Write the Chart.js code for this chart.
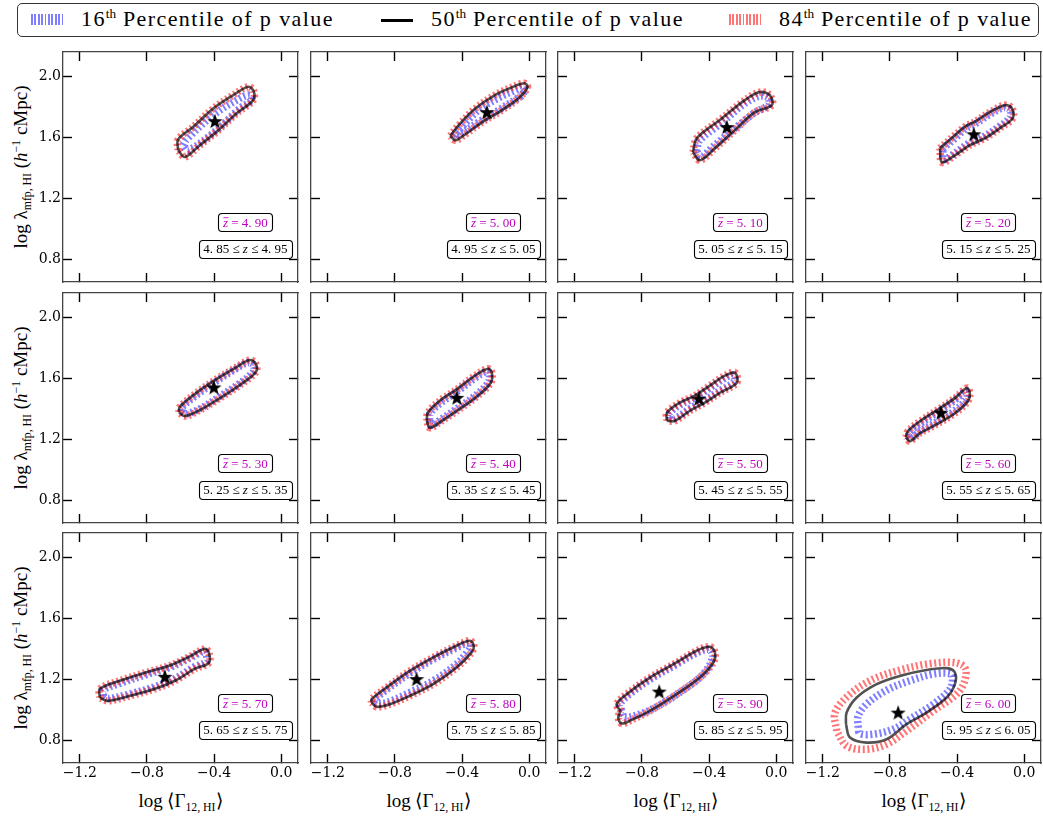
<!DOCTYPE html>
<html>
<head>
<meta charset="utf-8">
<script src="https://cdn.jsdelivr.net/npm/chart.js@4.4.1/dist/chart.umd.min.js"></script>
<style>
  body { margin: 0; background: #fff; width: 1043px; height: 816px; position: relative; overflow: hidden; }
  canvas { position: absolute; }
  #legend { position: absolute; left: 17px; top: 3px; width: 1020px; height: 32px; border: 1.3px solid #333; border-radius: 5px; }
  .smp { position: absolute; top: 10px; width: 32px; height: 11px; }
  .lt { position: absolute; top: 2px; font: 22px "Liberation Serif", serif; letter-spacing: 1.4px; white-space: nowrap; }
  .lt sup { font-size: 60%; vertical-align: 0.6em; line-height: 0; letter-spacing: 0; }
  .ttl { position: absolute; font: 19px "Liberation Serif", serif; white-space: nowrap; transform: translate(-50%, -50%); }
  .ttl.rot { transform: translate(-50%, -50%) rotate(-90deg); }
  .ttl sub, .ttl sup { font-size: 62%; line-height: 0; }
  .ttl sub { vertical-align: -0.35em; }
  .ttl sup { vertical-align: 0.6em; }
</style>
</head>
<body>
<div id="legend"></div>
<script>
// percentile levels shown in the legend
const pctLevels = ['16', '50', '84'];

// per panel redshift info
const zMean = [4.90, 5.00, 5.10, 5.20, 5.30, 5.40, 5.50, 5.60, 5.70, 5.80, 5.90, 6.00];
const zLow  = [4.85, 4.95, 5.05, 5.15, 5.25, 5.35, 5.45, 5.55, 5.65, 5.75, 5.85, 5.95];
const zHigh = [4.95, 5.05, 5.15, 5.25, 5.35, 5.45, 5.55, 5.65, 5.75, 5.85, 5.95, 6.05];

// best-fit star in each panel
const starX = [-0.395, -0.252, -0.294, -0.30, -0.401, -0.431, -0.461, -0.496, -0.693, -0.671, -0.697, -0.751];
const starY = [1.706, 1.765, 1.667, 1.62, 1.54, 1.472, 1.466, 1.374, 1.216, 1.201, 1.119, 0.981];

// ticks
const xTicks = [-1.2, -0.8, -0.4, 0.0];
const xTickText = ['\u22121.2', '\u22120.8', '\u22120.4', '0.0'];
const yTicks = [0.8, 1.2, 1.6, 2.0];
const yTickText = ['0.8', '1.2', '1.6', '2.0'];

// contours [log Gamma, log lambda]
const p50_490 = [[-0.614,1.515],[-0.614,1.586],[-0.524,1.669],[-0.405,1.789],[-0.286,1.877],[-0.197,1.932],[-0.165,1.905],[-0.167,1.844],[-0.266,1.757],[-0.385,1.636],[-0.485,1.548],[-0.574,1.471],[-0.614,1.515]];
const p16_490 = [[-0.584,1.548],[-0.564,1.585],[-0.405,1.746],[-0.247,1.855],[-0.187,1.877],[-0.177,1.844],[-0.247,1.790],[-0.385,1.647],[-0.554,1.515],[-0.584,1.548]];
const p84_490 = p50_490;

const p50_500 = [[-0.47,1.61],[-0.42,1.68],[-0.32,1.79],[-0.20,1.88],[-0.10,1.93],[-0.03,1.955],[-0.01,1.93],[-0.06,1.86],[-0.16,1.78],[-0.28,1.70],[-0.38,1.62],[-0.44,1.58],[-0.47,1.61]];
const p16_500 = [[-0.45,1.61],[-0.40,1.67],[-0.30,1.78],[-0.18,1.86],[-0.08,1.91],[-0.03,1.93],[-0.04,1.88],[-0.08,1.85],[-0.18,1.78],[-0.30,1.70],[-0.40,1.63],[-0.45,1.61]];
const p84_500 = p50_500;

const p50_510 = [[-0.496,1.502],[-0.473,1.594],[-0.336,1.713],[-0.187,1.844],[-0.098,1.897],[-0.038,1.877],[-0.026,1.811],[-0.127,1.765],[-0.246,1.647],[-0.365,1.528],[-0.455,1.449],[-0.496,1.502]];
const p16_510 = [[-0.475,1.51],[-0.455,1.58],[-0.33,1.69],[-0.19,1.82],[-0.10,1.87],[-0.05,1.86],[-0.045,1.815],[-0.13,1.76],[-0.25,1.655],[-0.37,1.545],[-0.45,1.47],[-0.475,1.51]];
const p84_510 = p50_510;

const p50_520 = [[-0.502,1.528],[-0.413,1.614],[-0.350,1.672],[-0.290,1.705],[-0.205,1.765],[-0.115,1.811],[-0.074,1.792],[-0.068,1.726],[-0.145,1.660],[-0.234,1.594],[-0.324,1.548],[-0.413,1.482],[-0.490,1.436],[-0.502,1.528]];
const p16_520 = [[-0.485,1.525],[-0.405,1.60],[-0.35,1.655],[-0.29,1.69],[-0.205,1.75],[-0.12,1.795],[-0.085,1.78],[-0.085,1.73],[-0.15,1.67],[-0.24,1.605],[-0.33,1.56],[-0.415,1.495],[-0.48,1.455],[-0.485,1.525]];
const p84_520 = p50_520;

const p50_530 = [[-0.610,1.378],[-0.604,1.412],[-0.514,1.497],[-0.395,1.588],[-0.276,1.667],[-0.187,1.720],[-0.151,1.694],[-0.151,1.641],[-0.246,1.556],[-0.365,1.470],[-0.485,1.391],[-0.574,1.352],[-0.610,1.378]];
const p16_530 = [[-0.595,1.385],[-0.59,1.41],[-0.51,1.485],[-0.395,1.575],[-0.28,1.655],[-0.195,1.705],[-0.165,1.685],[-0.165,1.645],[-0.25,1.565],[-0.365,1.482],[-0.48,1.403],[-0.57,1.365],[-0.595,1.385]];
const p84_530 = p50_530;

const p50_540 = [[-0.610,1.321],[-0.604,1.374],[-0.532,1.453],[-0.425,1.532],[-0.324,1.617],[-0.246,1.663],[-0.223,1.637],[-0.229,1.571],[-0.306,1.486],[-0.413,1.400],[-0.520,1.321],[-0.592,1.275],[-0.610,1.321]];
const p16_540 = [[-0.595,1.325],[-0.59,1.37],[-0.525,1.44],[-0.42,1.52],[-0.325,1.60],[-0.255,1.645],[-0.238,1.628],[-0.243,1.575],[-0.31,1.497],[-0.415,1.413],[-0.52,1.335],[-0.585,1.29],[-0.595,1.325]];
const p84_540 = p50_540;

const p50_550 = [[-0.651,1.321],[-0.651,1.374],[-0.574,1.440],[-0.485,1.486],[-0.395,1.552],[-0.306,1.617],[-0.246,1.637],[-0.235,1.571],[-0.336,1.505],[-0.425,1.440],[-0.514,1.387],[-0.604,1.321],[-0.651,1.321]];
const p16_550 = [[-0.635,1.335],[-0.635,1.37],[-0.57,1.428],[-0.48,1.475],[-0.39,1.54],[-0.305,1.602],[-0.255,1.62],[-0.25,1.578],[-0.34,1.515],[-0.43,1.452],[-0.515,1.40],[-0.60,1.337],[-0.635,1.335]];
const p84_550 = p50_550;

const p50_560 = [[-0.705,1.213],[-0.693,1.252],[-0.621,1.318],[-0.502,1.403],[-0.413,1.470],[-0.342,1.536],[-0.324,1.503],[-0.336,1.450],[-0.413,1.371],[-0.532,1.292],[-0.621,1.240],[-0.681,1.187],[-0.705,1.213]];
const p16_560 = [[-0.69,1.222],[-0.68,1.25],[-0.615,1.305],[-0.50,1.39],[-0.415,1.455],[-0.35,1.515],[-0.338,1.495],[-0.35,1.455],[-0.42,1.383],[-0.535,1.305],[-0.62,1.253],[-0.675,1.205],[-0.69,1.222]];
const p84_560 = p50_560;

const p50_570 = [[-1.080,1.078],[-1.080,1.137],[-0.961,1.190],[-0.812,1.242],[-0.664,1.290],[-0.544,1.350],[-0.455,1.400],[-0.431,1.374],[-0.431,1.308],[-0.514,1.269],[-0.633,1.190],[-0.752,1.137],[-0.901,1.091],[-1.032,1.058],[-1.080,1.078]];
const p16_570 = [[-1.06,1.09],[-1.06,1.13],[-0.955,1.175],[-0.81,1.228],[-0.665,1.277],[-0.548,1.337],[-0.46,1.383],[-0.447,1.365],[-0.447,1.315],[-0.52,1.28],[-0.635,1.203],[-0.755,1.15],[-0.90,1.104],[-1.03,1.073],[-1.06,1.09]];
const p84_570 = p50_570;

const p50_580 = [[-0.939,1.047],[-0.939,1.069],[-0.849,1.146],[-0.711,1.255],[-0.572,1.343],[-0.433,1.420],[-0.354,1.453],[-0.330,1.420],[-0.343,1.376],[-0.433,1.277],[-0.572,1.168],[-0.711,1.091],[-0.830,1.036],[-0.909,1.019],[-0.939,1.047]];
const p16_580 = [[-0.925,1.05],[-0.92,1.065],[-0.845,1.135],[-0.71,1.24],[-0.572,1.33],[-0.435,1.405],[-0.36,1.437],[-0.35,1.41],[-0.364,1.385],[-0.433,1.299],[-0.572,1.19],[-0.711,1.113],[-0.84,1.05],[-0.905,1.038],[-0.925,1.05]];
const p84_580 = p50_580;

const p50_590 = [[-0.927,0.992],[-0.951,1.036],[-0.891,1.102],[-0.752,1.211],[-0.593,1.310],[-0.474,1.387],[-0.395,1.413],[-0.365,1.376],[-0.375,1.310],[-0.455,1.211],[-0.593,1.102],[-0.752,0.992],[-0.852,0.938],[-0.921,0.909],[-0.941,0.948],[-0.927,0.992]];
const p16_590 = [[-0.921,0.992],[-0.93,1.036],[-0.88,1.095],[-0.75,1.20],[-0.593,1.298],[-0.475,1.372],[-0.40,1.395],[-0.379,1.343],[-0.435,1.234],[-0.554,1.128],[-0.712,1.019],[-0.832,0.964],[-0.907,0.953],[-0.921,0.992]];
const p84_590 = p50_590;

const p50_600 = [[-1.062,0.905],[-1.058,0.981],[-0.998,1.080],[-0.879,1.168],[-0.740,1.222],[-0.582,1.260],[-0.462,1.273],[-0.413,1.244],[-0.413,1.168],[-0.462,1.080],[-0.582,0.981],[-0.701,0.905],[-0.820,0.806],[-0.939,0.784],[-1.038,0.817],[-1.062,0.905]];
const p16_600 = [[-0.989,0.882],[-0.989,0.959],[-0.939,1.036],[-0.820,1.128],[-0.681,1.190],[-0.542,1.234],[-0.443,1.238],[-0.427,1.211],[-0.443,1.135],[-0.542,1.036],[-0.681,0.938],[-0.780,0.872],[-0.899,0.839],[-0.979,0.843],[-0.989,0.882]];
const p84_600 = [[-1.117,0.861],[-1.127,0.981],[-1.038,1.102],[-0.899,1.201],[-0.740,1.260],[-0.582,1.299],[-0.423,1.310],[-0.354,1.277],[-0.354,1.190],[-0.403,1.102],[-0.542,0.992],[-0.701,0.861],[-0.820,0.773],[-0.939,0.740],[-1.058,0.762],[-1.117,0.861]];

const contours16 = [p16_490, p16_500, p16_510, p16_520, p16_530, p16_540, p16_550, p16_560, p16_570, p16_580, p16_590, p16_600];
const contours50 = [p50_490, p50_500, p50_510, p50_520, p50_530, p50_540, p50_550, p50_560, p50_570, p50_580, p50_590, p50_600];
const contours84 = [p84_490, p84_500, p84_510, p84_520, p84_530, p84_540, p84_550, p84_560, p84_570, p84_580, p84_590, p84_600];

// layout of the grid
const colLeft = [63, 311, 558, 806];
const rowTop = [52, 293, 533];
const panelW = 235, panelH = 230;

const BLUE = 'rgba(40,40,255,0.6)';
const RED = 'rgba(255,30,30,0.62)';
const DARK = 'rgba(0,0,0,0.68)';
const tickFont = { family: 'DejaVu Serif', size: 14 };
const annSize = 13;

// legend
const legend = document.getElementById('legend');
const smpStyle = [
  'background:repeating-linear-gradient(90deg,' + BLUE + ' 0 1.8px,transparent 1.8px 3.4px)',
  'height:3px;top:15px;background:#000',
  'background:repeating-linear-gradient(90deg,' + RED + ' 0 1.8px,transparent 1.8px 3.4px)'
];
const smpLeft = [13, 363, 711];
pctLevels.forEach((p, k) => {
  const s = document.createElement('span');
  s.className = 'smp';
  s.style.cssText = 'left:' + smpLeft[k] + 'px;' + smpStyle[k];
  legend.appendChild(s);
  const t = document.createElement('span');
  t.className = 'lt';
  t.style.left = (smpLeft[k] + 50) + 'px';
  t.innerHTML = p + '<sup>th</sup> Percentile of p value';
  legend.appendChild(t);
});

// axis titles
const yTitle = 'log \u03bb<sub>mfp, HI</sub> (<i>h</i><sup>\u22121</sup> cMpc)';
const xTitle = 'log \u27e8\u0393<sub>12, HI</sub>\u27e9';
rowTop.forEach(t => {
  const d = document.createElement('div');
  d.className = 'ttl rot';
  d.style.left = '21px';
  d.style.top = (t + panelH / 2) + 'px';
  d.innerHTML = yTitle;
  document.body.appendChild(d);
});
colLeft.forEach(l => {
  const d = document.createElement('div');
  d.className = 'ttl';
  d.style.left = (l + panelW / 2) + 'px';
  d.style.top = '800px';
  d.innerHTML = xTitle;
  document.body.appendChild(d);
});

// filled star marker
const starImg = document.createElement('canvas');
starImg.width = 18; starImg.height = 18;
(function () {
  const sc = starImg.getContext('2d');
  sc.beginPath();
  for (let k = 0; k < 10; k++) {
    const rad = k % 2 ? 3.3 : 8;
    const a = -Math.PI / 2 + k * Math.PI / 5;
    sc.lineTo(9 + rad * Math.cos(a), 9.6 + rad * Math.sin(a));
  }
  sc.closePath();
  sc.fillStyle = '#000';
  sc.fill();
})();

const fmtZ = v => v.toFixed(2).replace('.', '. ');

function runsWidth(ctx, runs) {
  let w = 0;
  runs.forEach(r => { ctx.font = r.f; w += ctx.measureText(r.t).width; });
  return w;
}
function drawBox(ctx, cx, cy, runs, color) {
  const w = runsWidth(ctx, runs);
  const bw = w + 9, bh = 18;
  ctx.save();
  ctx.beginPath();
  ctx.roundRect(Math.round(cx - bw / 2) + 0.5, Math.round(cy - bh / 2) + 0.5, Math.round(bw), bh, 3.5);
  ctx.fillStyle = '#fff';
  ctx.fill();
  ctx.lineWidth = 1.1;
  ctx.strokeStyle = '#000';
  ctx.stroke();
  let x = cx - w / 2;
  ctx.fillStyle = color;
  ctx.strokeStyle = color;
  ctx.textBaseline = 'middle';
  runs.forEach(r => {
    ctx.font = r.f;
    ctx.fillText(r.t, x, cy + 1);
    const rw = ctx.measureText(r.t).width;
    if (r.bar) {
      ctx.lineWidth = 0.8;
      ctx.beginPath();
      ctx.moveTo(x + 0.5, cy - 4.5);
      ctx.lineTo(x + rw + 0.5, cy - 4.5);
      ctx.stroke();
    }
    x += rw;
  });
  ctx.restore();
}

const annPlugin = {
  id: 'zbox',
  afterDatasetsDraw(chart, args, opts) {
    const a = chart.chartArea;
    const ctx = chart.ctx;
    const i = opts.index;
    const rf = annSize + 'px "Liberation Serif"';
    const itf = 'italic ' + annSize + 'px "Liberation Serif"';
    const cx = a.left + 0.776 * (a.right - a.left);
    drawBox(ctx, cx, a.top + 0.74 * (a.bottom - a.top),
      [{ t: 'z', f: itf, bar: true }, { t: ' = ' + fmtZ(zMean[i]), f: rf }], '#bf00bf');
    drawBox(ctx, cx, a.top + 0.855 * (a.bottom - a.top),
      [{ t: fmtZ(zLow[i]) + ' \u2264 ', f: rf }, { t: 'z', f: itf }, { t: ' \u2264 ' + fmtZ(zHigh[i]), f: rf }], '#000');
  }
};

function axis(pos, vals, texts, showLabels, size) {
  const horiz = pos === 'bottom' || pos === 'top';
  return {
    type: 'linear',
    position: pos,
    min: horiz ? -1.3 : 0.65,
    max: horiz ? 0.1 : 2.16,
    afterBuildTicks: s => { s.ticks = vals.map(v => ({ value: v })); },
    afterFit: s => {
      if (horiz) s.height = size; else s.width = size;
      s.paddingTop = 0; s.paddingBottom = 0; s.paddingLeft = 0; s.paddingRight = 0;
    },
    ticks: {
      display: showLabels,
      font: tickFont,
      color: '#000',
      padding: 11,
      maxRotation: 0,
      autoSkip: false,
      callback: (v, idx) => texts[idx]
    },
    grid: { display: true, drawOnChartArea: false, drawTicks: true, tickLength: -9, tickWidth: 1.4, tickColor: '#000' },
    border: { display: true, color: '#444', width: 1.3 }
  };
}

const toPts = arr => arr.map(p => ({ x: p[0], y: p[1] }));
const hatch = { showLine: true, borderWidth: 7.5, borderDash: [2, 2.6], borderCapStyle: 'butt', pointRadius: 0, tension: 0.35, fill: false };

for (let i = 0; i < 12; i++) {
  const r = Math.floor(i / 4), c = i % 4;
  const padL = c === 0 ? 60 : 12, padR = 12, padT = 12, padB = r === 2 ? 34 : 12;
  const cv = document.createElement('canvas');
  cv.width = padL + panelW + padR;
  cv.height = padT + panelH + padB;
  cv.style.left = (colLeft[c] - padL) + 'px';
  cv.style.top = (rowTop[r] - padT) + 'px';
  document.body.appendChild(cv);

  // first dataset is drawn on top
  new Chart(cv, {
    type: 'scatter',
    data: {
      datasets: [
        { data: [{ x: starX[i], y: starY[i] }], pointStyle: starImg, pointRadius: 8, showLine: false },
        { data: toPts(contours50[i]), showLine: true, borderColor: DARK, borderWidth: 2.6, pointRadius: 0, tension: 0.35, fill: false },
        Object.assign({ data: toPts(contours84[i]), borderColor: RED }, hatch),
        Object.assign({ data: toPts(contours16[i]), borderColor: BLUE }, hatch)
      ]
    },
    options: {
      responsive: false,
      animation: false,
      devicePixelRatio: 1,
      layout: { padding: { left: 0, right: padR, top: padT, bottom: 0 } },
      scales: {
        x: axis('bottom', xTicks, xTickText, r === 2, padB),
        x2: axis('top', xTicks, xTickText, false, 0),
        y: axis('left', yTicks, yTickText, c === 0, padL),
        y2: axis('right', yTicks, yTickText, false, 0)
      },
      plugins: {
        legend: { display: false },
        tooltip: { enabled: false },
        zbox: { index: i }
      }
    },
    plugins: [annPlugin]
  });
}
</script>
</body>
</html>
